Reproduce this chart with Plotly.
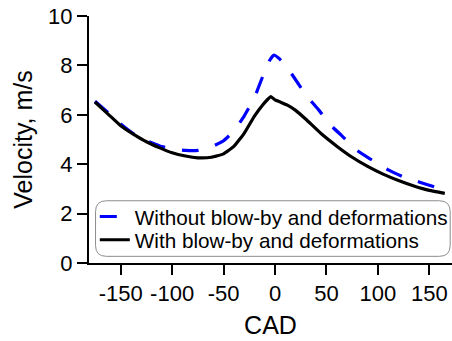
import plotly.graph_objects as go

# Crank angle (degrees) and in-cylinder velocity (m/s)
cad_without = [-175, -162, -150, -137, -125, -112, -100, -87, -75, -62, -50, -40, -30, -20,
               -12, -5, -1, 4, 10, 20, 30, 42, 55, 65, 80, 93, 110, 125, 140, 155, 165]
vel_without = [6.55, 6.08, 5.63, 5.22, 4.95, 4.74, 4.62, 4.56, 4.56, 4.70, 4.95, 5.35, 5.95, 6.70,
               7.55, 8.22, 8.42, 8.28, 8.02, 7.42, 6.80, 6.22, 5.54, 5.15, 4.55, 4.20, 3.77, 3.48,
               3.28, 3.08, 2.97]

cad_with = [-175, -162, -150, -137, -125, -112, -100, -87, -75, -62, -50, -40, -30, -20,
            -12, -7, -4, 0, 6, 12, 20, 30, 45, 60, 75, 90, 105, 120, 135, 150, 165]
vel_with = [6.52, 6.02, 5.56, 5.20, 4.91, 4.66, 4.46, 4.33, 4.26, 4.28, 4.42, 4.72, 5.25, 5.95,
            6.40, 6.63, 6.74, 6.60, 6.50, 6.39, 6.18, 5.82, 5.23, 4.73, 4.28, 3.91, 3.60, 3.34,
            3.12, 2.94, 2.82]

x_ticks = [-150, -100, -50, 0, 50, 100, 150]
y_ticks = [0, 2, 4, 6, 8, 10]

FONT = "Liberation Sans, Arial, sans-serif"
PLOT_W, PLOT_H = 363, 247

fig = go.Figure()
fig.add_trace(go.Scatter(
    x=cad_without, y=vel_without, mode="lines",
    name="Without blow-by and deformations", legend="legend",
    line=dict(color="#0000ff", width=3.2, dash="17px,17px", shape="spline", smoothing=0.35),
))
fig.add_trace(go.Scatter(
    x=cad_with, y=vel_with, mode="lines",
    name="With blow-by and deformations", legend="legend2",
    line=dict(color="#000000", width=3.2, shape="spline", smoothing=0.35),
))

# rounded legend frame
x0, x1, y0, y1, r = 0.018, 0.995, 0.027, 0.252, 0.03
ry = r * PLOT_W / PLOT_H
path = (f"M {x0+r},{y0} L {x1-r},{y0} Q {x1},{y0} {x1},{y0+ry} "
        f"L {x1},{y1-ry} Q {x1},{y1} {x1-r},{y1} L {x0+r},{y1} "
        f"Q {x0},{y1} {x0},{y1-ry} L {x0},{y0+ry} Q {x0},{y0} {x0+r},{y0} Z")
fig.add_shape(type="path", path=path, xref="paper", yref="paper",
              line=dict(color="#8c8c8c", width=1), fillcolor="white", layer="below")

legend_style = dict(xanchor="left", yanchor="middle", bgcolor="rgba(0,0,0,0)", borderwidth=0,
                    font=dict(family=FONT, size=20.7, color="black"), itemwidth=30)

fig.update_layout(
    width=452, height=341,
    margin=dict(l=89, r=0, t=16, b=78, autoexpand=False),
    paper_bgcolor="white", plot_bgcolor="white",
    font=dict(family=FONT, color="black", size=22),
    showlegend=True,
    legend=dict(x=0.016, y=0.188, **legend_style),
    legend2=dict(x=0.016, y=0.094, **legend_style),
    xaxis=dict(range=[-180.8, 172], tickvals=x_ticks, ticktext=[str(v) for v in x_ticks],
               tickangle=0, automargin=False,
               showgrid=False, zeroline=False, showline=True, linecolor="black", linewidth=2,
               ticks="outside", ticklen=10, tickwidth=2, tickcolor="black",
               tickfont=dict(size=22),
               title=dict(text="CAD", font=dict(size=25), standoff=11)),
    yaxis=dict(range=[0, 10], tickvals=y_ticks, showgrid=False, zeroline=False,
               showline=True, linecolor="black", linewidth=2, automargin=False,
               ticks="outside", ticklen=10, tickwidth=2, tickcolor="black",
               tickfont=dict(size=22),
               title=dict(text="Velocity, m/s", font=dict(size=25), standoff=8)),
)

fig.write_html("out.html")
